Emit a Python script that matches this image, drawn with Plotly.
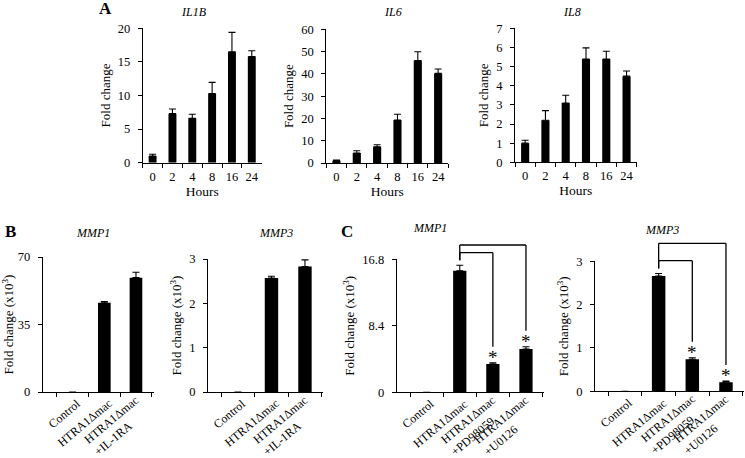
import math
import plotly.graph_objects as go

W, H = 745, 458

# ---------------- data ----------------
hours = ["0", "2", "4", "8", "16", "24"]
il1b = [1.0, 7.3, 6.6, 10.3, 16.5, 15.8]
il1b_err = [0.25, 0.7, 0.6, 1.65, 2.9, 0.85]
il6 = [1.0, 4.5, 7.3, 19.3, 46.0, 40.2]
il6_err = [0.3, 1.0, 0.9, 2.6, 3.9, 2.0]
il8 = [1.0, 2.2, 3.1, 5.4, 5.4, 4.5]
il8_err = [0.15, 0.5, 0.4, 0.58, 0.4, 0.27]

b_groups = ["Control", "HTRA1Δmac", "HTRA1Δmac<br>+IL-1RA"]
b_mmp1 = [0, 46.3, 59.3]
b_mmp1_err = [0, 0.6, 2.8]
b_mmp3 = [0, 2.57, 2.83]
b_mmp3_err = [0, 0.04, 0.15]

c_groups = ["Control", "HTRA1Δmac", "HTRA1Δmac<br>+PD98059", "HTRA1Δmac<br>+U0126"]
c_mmp1 = [0, 15.36, 3.57, 5.47]
c_mmp1_err = [0, 0.68, 0.17, 0.29]
c_mmp3 = [0, 2.66, 0.74, 0.21]
c_mmp3_err = [0, 0.06, 0.035, 0.025]

c_reference = 1          # index of the group the others are compared to
c_significant = [2, 3]   # indices marked with *

FONT = "Liberation Serif"
ANGLE = 40
LAB_SIZE = 12
LINE_H = LAB_SIZE * 1.3

# --------------- layout helpers (pixel boxes) ---------------
def dx(l, r):
    return [l / W, r / W]

def dy(t, b):
    return [1 - b / H, 1 - t / H]

def px(x):
    return x / W

def py(y):
    return 1 - y / H

YT = "Fold change (x10<sup>3</sup>)"
panels = [
    dict(cats=hours, v=il1b, e=il1b_err, ymax=20, ytv=[0, 5, 10, 15, 20], ytt=None,
         title="IL1B", box=(142.7, 261.7, 28.3, 162.7), xt="Hours", rot=False, yt="Fold change"),
    dict(cats=hours, v=il6, e=il6_err, ymax=60, ytv=[0, 10, 20, 30, 40, 50, 60], ytt=None,
         title="IL6", box=(326.3, 448.3, 29.3, 163.0), xt="Hours", rot=False, yt="Fold change"),
    dict(cats=hours, v=il8, e=il8_err, ymax=7, ytv=list(range(8)), ytt=None,
         title="IL8", box=(515.0, 636.7, 28.3, 162.3), xt="Hours", rot=False, yt="Fold change"),
    dict(cats=b_groups, v=b_mmp1, e=b_mmp1_err, ymax=70, ytv=[0, 35, 70], ytt=None,
         title="MMP1", box=(42.7, 154.0, 257.0, 392.0), xt=None, rot=True, yt=YT),
    dict(cats=b_groups, v=b_mmp3, e=b_mmp3_err, ymax=3, ytv=[0, 1, 2, 3], ytt=None,
         title="MMP3", box=(208.0, 323.0, 259.0, 392.0), xt=None, rot=True, yt=YT),
    dict(cats=c_groups, v=c_mmp1, e=c_mmp1_err, ymax=16.8, ytv=[0, 8.4, 16.8], ytt=["0", "8.4", "16.8"],
         title="MMP1", box=(396.7, 544.0, 259.3, 392.3), xt=None, rot=True, yt=YT),
    dict(cats=c_groups, v=c_mmp3, e=c_mmp3_err, ymax=3, ytv=[0, 1, 2, 3], ytt=None,
         title="MMP3", box=(595.0, 744.0, 261.3, 391.3), xt=None, rot=True, yt=YT),
]

title_pos = [(194, 12), (393, 12), (572, 12), (93, 233), (276, 233), (430, 228), (662, 230)]

fig = go.Figure()
layout = dict(
    width=W, height=H, margin=dict(l=0, r=0, t=0, b=0, autoexpand=False),
    paper_bgcolor="white", plot_bgcolor="white", showlegend=False,
    font=dict(family=FONT, color="black", size=12),
)
annotations = []
shapes = []

for i, p in enumerate(panels):
    n = i + 1
    xa = "x" if n == 1 else f"x{n}"
    ya = "y" if n == 1 else f"y{n}"
    l, r, t, b = p["box"]
    fig.add_trace(go.Bar(
        x=p["cats"], y=p["v"], xaxis=xa, yaxis=ya,
        marker=dict(color="black", line=dict(width=0)), width=0.4,
        error_y=dict(type="data", array=p["e"], arrayminus=[0] * len(p["e"]), symmetric=False,
                     color="black", thickness=1.1, width=3.5),
    ))
    xkey = "xaxis" if n == 1 else f"xaxis{n}"
    ykey = "yaxis" if n == 1 else f"yaxis{n}"
    layout[xkey] = dict(
        domain=dx(l, r), anchor=ya, type="category", showline=True, linecolor="black", linewidth=1,
        ticks="outside", tickson="boundaries", ticklen=4, tickcolor="black", showgrid=False,
        showticklabels=not p["rot"], tickangle=0, tickfont=dict(size=12.5), ticklabelstandoff=2,
        title=dict(text=p["xt"], font=dict(size=13.5), standoff=0) if p["xt"] else None,
        automargin=False, fixedrange=True,
    )
    ydict = dict(
        domain=dy(t, b), anchor=xa, range=[0, p["ymax"]], showline=True, linecolor="black", linewidth=1,
        ticks="outside", ticklen=4, tickcolor="black", showgrid=False, zeroline=False,
        tickvals=p["ytv"], tickfont=dict(size=12.5), ticklabelstandoff=5,
        title=dict(text=p["yt"], font=dict(size=13), standoff=4),
        automargin=False, fixedrange=True,
    )
    if p["ytt"]:
        ydict["ticktext"] = p["ytt"]
    layout[ykey] = ydict
    tx, ty = title_pos[i]
    annotations.append(dict(text=f"<i>{p['title']}</i>", x=px(tx), y=py(ty), xref="paper", yref="paper",
                            showarrow=False, font=dict(size=12), xanchor="center", yanchor="middle"))
    if p["rot"]:
        for c in p["cats"]:
            nl = c.count("<br>") + 1
            annotations.append(dict(
                text=c, x=c, y=0, xref=xa, yref=f"{ya} domain", showarrow=False,
                textangle=-ANGLE, xanchor="right", yanchor="top", align="left",
                font=dict(size=LAB_SIZE),
                xshift=8 + nl * LINE_H * math.sin(math.radians(ANGLE)) * 0.5,
                yshift=-2 if nl == 1 else 2,
            ))

for letter, (lx, ly) in zip(["A", "B", "C"], [(105, 9), (10, 232), (347, 231)]):
    annotations.append(dict(text=f"<b>{letter}</b>", x=px(lx), y=py(ly), xref="paper", yref="paper",
                            showarrow=False, font=dict(size=17), xanchor="center", yanchor="middle"))

# significance brackets and stars for panel C
for n, (vals, errs, cats) in [(6, (c_mmp1, c_mmp1_err, c_groups)), (7, (c_mmp3, c_mmp3_err, c_groups))]:
    p = panels[n - 1]
    l, r, t, b = p["box"]
    ph = b - t
    ymax = p["ymax"]
    xa = f"x{n}"
    yd = f"y{n} domain"
    levels = [1.0 + 6.6 / ph, 1.0 + 14.3 / ph] if n == 6 else [1.0 + 0.6 / ph, 1.0 + 18 / ph]
    ref_bottom = (vals[c_reference] + errs[c_reference]) / ymax + 5 / ph
    for k, j in enumerate(c_significant):
        top = levels[k]
        bottom = (vals[j] + errs[j]) / ymax + 16 / ph
        ln = dict(color="black", width=1.3)
        shapes.append(dict(type="line", xref=xa, yref=yd, x0=cats[c_reference], x1=cats[c_reference],
                           y0=ref_bottom, y1=top, line=ln))
        shapes.append(dict(type="line", xref=xa, yref=yd, x0=cats[c_reference], x1=cats[j],
                           y0=top, y1=top, line=ln))
        shapes.append(dict(type="line", xref=xa, yref=yd, x0=cats[j], x1=cats[j],
                           y0=bottom, y1=top, line=ln))
        annotations.append(dict(text="*", x=cats[j], y=vals[j] + errs[j], xref=xa, yref=f"y{n}",
                                showarrow=False, font=dict(size=19), xanchor="center", yanchor="bottom",
                                yshift=-7))

layout["annotations"] = annotations
layout["shapes"] = shapes
fig.update_layout(**layout)
fig.write_html(
    "out.html",
    config={"displayModeBar": False, "staticPlot": True},
    post_script="document.body.style.margin='0px';document.body.style.overflow='hidden';",
)
